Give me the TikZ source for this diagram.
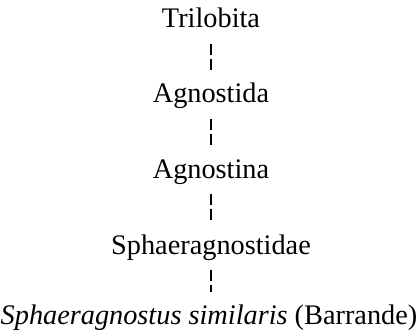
\documentclass[tikz,border=0pt]{standalone}
\usepackage{fontspec}
\setmainfont{Liberation Serif}
\begin{document}
\begin{tikzpicture}[x=1pt,y=-1pt,
  taxon/.style={anchor=base,inner sep=0pt,text height=19pt,text depth=6pt,font=\fontsize{28.3}{31}\selectfont},
  link/.style={line width=1.6pt,dash pattern=on 11pt off 4pt,shorten <=9.5pt,shorten >=13.5pt}]
\useasboundingbox (0,0) rectangle (419,331);
\node[taxon] (t1) at (211,28) {Trilobita};
\node[taxon] (t2) at (211,103) {Agnostida};
\node[taxon] (t3) at (211,178) {Agnostina};
\node[taxon] (t4) at (211,254) {Sphaeragnostidae};
\node[taxon] (t5) at (209,324.5) {\textit{Sphaeragnostus similaris} (Barrande)};
\draw[link] (t1) -- (t1|-t2.north);
\draw[link] (t2) -- (t2|-t3.north);
\draw[link] (t3) -- (t3|-t4.north);
\draw[link] (t4.south) -- (t4.south|-t5.north);
\end{tikzpicture}
\end{document}
